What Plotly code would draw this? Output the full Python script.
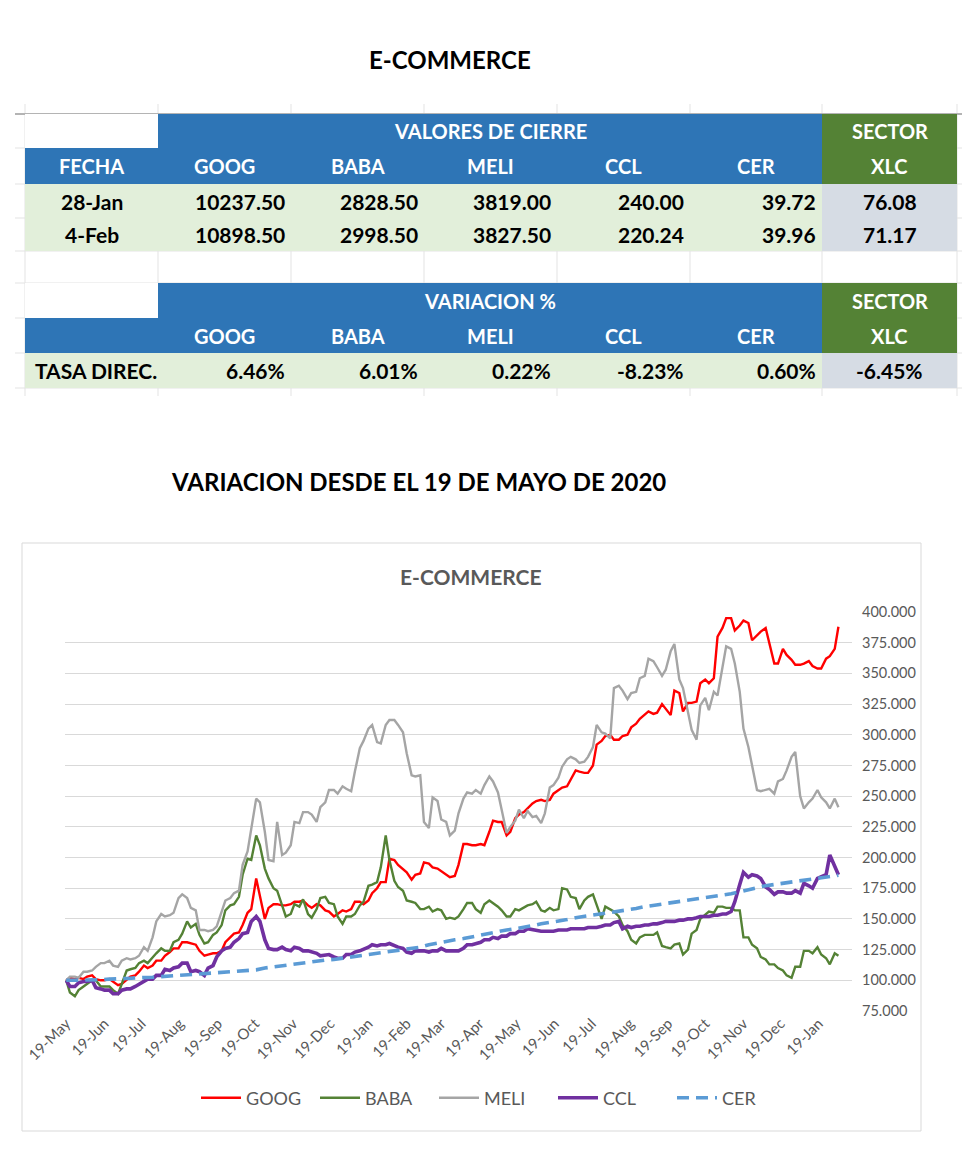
import plotly.graph_objects as go
import pandas as pd

W, H = 980, 1152
FONT = "Lato"
OFF = 8  # the page body adds an 8px margin; compensate

# ---------------- table data ----------------
tickers = ["GOOG", "BABA", "MELI", "CCL", "CER"]
fechas = ["28-Jan", "4-Feb"]
cierre_28jan = [10237.50, 2828.50, 3819.00, 240.00, 39.72]
cierre_4feb = [10898.50, 2998.50, 3827.50, 220.24, 39.96]
xlc_cierre = [76.08, 71.17]
variacion_pct = [6.46, 6.01, 0.22, -8.23, 0.60]
xlc_variacion = -6.45

# ---------------- chart data (index, 19-May-2020 = 100) ----------------
# read twice a week: Tuesdays (from 19-May-2020) and the following Fridays
tuesdays = pd.date_range("2020-05-19", periods=90, freq="7D")
fridays = tuesdays + pd.Timedelta(days=3)

goog_tue = [100, 101, 101, 104, 100, 101, 96, 100, 104, 112,
            112, 116, 123, 126, 131, 129, 120, 122, 124, 135,
            139, 155, 183, 150, 162, 161, 162, 164, 161, 162,
            157, 152, 157, 158, 164, 165, 175, 180, 198, 191,
            182, 187, 195, 191, 186, 185, 211, 210, 211, 221,
            229, 218, 232, 237, 244, 247, 247, 255, 258, 271,
            269, 275, 295, 300, 296, 300, 309, 316, 317, 325,
            316, 334, 326, 327, 345, 346, 387, 395, 389, 391,
            381, 387, 358, 370, 361, 357, 360, 354, 362, 370]
goog_fri = [102, 102, 103, 101, 100, 99, 97, 103, 107, 110,
            116, 120, 126, 131, 130, 124, 121, 122, 131, 138,
            145, 158, 169, 159, 162, 161, 164, 165, 159, 161,
            156, 154, 156, 164, 162, 171, 180, 199, 194, 188,
            186, 196, 192, 189, 184, 194, 211, 210, 210, 230,
            229, 221, 235, 240, 246, 246, 252, 257, 264, 270,
            269, 292, 299, 296, 299, 306, 313, 319, 318, 321,
            336, 319, 326, 342, 342, 380, 395, 385, 393, 377,
            384, 374, 358, 365, 357, 358, 356, 354, 364, 388]

baba_tue = [100, 87, 95, 100, 95, 95, 89, 108, 110, 116,
            119, 126, 124, 133, 148, 146, 130, 137, 145, 161,
            168, 199, 218, 191, 175, 161, 154, 160, 154, 158,
            168, 162, 146, 152, 161, 177, 180, 218, 181, 173,
            164, 158, 160, 158, 150, 150, 158, 163, 155, 165,
            160, 152, 158, 159, 162, 157, 159, 158, 174, 167,
            165, 170, 150, 158, 152, 140, 130, 137, 137, 128,
            126, 130, 125, 141, 153, 155, 160, 159, 157, 135,
            126, 117, 113, 108, 102, 111, 124, 127, 118, 122]
baba_fri = [90, 92, 97, 100, 95, 92, 97, 109, 114, 114,
            122, 124, 131, 138, 143, 137, 131, 139, 157, 162,
            186, 198, 210, 183, 173, 152, 162, 166, 151, 167,
            163, 152, 152, 154, 164, 178, 192, 198, 176, 165,
            163, 158, 156, 157, 151, 152, 163, 158, 162, 163,
            157, 152, 157, 161, 164, 156, 157, 175, 168, 158,
            168, 161, 160, 156, 145, 133, 135, 137, 139, 127,
            129, 121, 138, 150, 156, 160, 159, 157, 135, 129,
            119, 113, 110, 104, 111, 124, 122, 121, 113, 120]

meli_tue = [100, 103, 107, 108, 114, 116, 111, 118, 118, 127,
            135, 154, 153, 167, 167, 157, 141, 141, 156, 167,
            173, 205, 248, 221, 197, 202, 210, 228, 237, 229,
            245, 255, 258, 254, 289, 305, 294, 308, 312, 302,
            267, 267, 224, 246, 229, 222, 248, 252, 252, 266,
            253, 220, 230, 232, 233, 228, 257, 265, 280, 280,
            278, 290, 302, 297, 340, 329, 335, 348, 360, 348,
            368, 345, 318, 296, 330, 335, 355, 370, 335, 290,
            255, 255, 252, 264, 282, 250, 245, 255, 245, 248]
meli_fri = [103, 102, 107, 111, 114, 112, 116, 117, 120, 124,
            148, 152, 155, 170, 159, 141, 140, 144, 165, 171,
            194, 224, 245, 198, 229, 204, 229, 237, 235, 241,
            255, 252, 256, 270, 295, 308, 293, 312, 308, 285,
            266, 229, 249, 231, 218, 236, 253, 255, 259, 262,
            239, 225, 239, 238, 234, 236, 259, 274, 282, 277,
            282, 308, 301, 338, 336, 334, 346, 362, 355, 353,
            374, 338, 304, 324, 320, 332, 372, 358, 305, 275,
            254, 256, 262, 271, 286, 240, 248, 249, 240, 241]

ccl_tue = [100, 95, 99, 100, 93, 92, 89, 93, 95, 99,
           101, 104, 108, 111, 114, 108, 104, 112, 124, 127,
           134, 139, 152, 133, 125, 127, 124, 126, 124, 122,
           121, 119, 118, 121, 124, 127, 128, 129, 128, 126,
           122, 124, 123, 124, 124, 124, 126, 129, 131, 133,
           134, 136, 138, 140, 141, 140, 140, 141, 141, 142,
           142, 143, 144, 145, 148, 144, 144, 145, 146, 147,
           148, 149, 150, 151, 152, 153, 154, 156, 178, 184,
           185, 176, 170, 172, 171, 171, 177, 183, 186, 192]
ccl_fri = [95, 98, 99, 94, 92, 89, 92, 93, 97, 101,
           104, 109, 110, 114, 107, 107, 110, 119, 126, 131,
           138, 148, 148, 126, 125, 125, 127, 124, 123, 120,
           121, 118, 121, 123, 125, 129, 129, 130, 127, 123,
           124, 124, 124, 126, 124, 124, 129, 130, 133, 135,
           136, 138, 140, 142, 141, 140, 140, 141, 142, 142,
           143, 143, 145, 147, 142, 143, 144, 145, 146, 148,
           148, 149, 150, 152, 152, 153, 154, 164, 188, 186,
           183, 174, 172, 171, 173, 179, 175, 184, 202, 186]

cer_tue = [100, 100, 100, 100.5, 100.5, 101, 101, 101.5, 102, 102,
           102.5, 103, 103.5, 103.5, 104, 104.5, 105, 105.5, 106, 107,
           107.5, 108, 108.5, 110, 111, 112, 113, 114, 115, 116,
           116.5, 117, 118, 119, 120, 121, 122, 123, 124, 125,
           126, 127, 129, 130.5, 132, 133, 134, 135.5, 137, 138,
           139.5, 141, 142, 143, 144.5, 146, 147, 148, 149.5, 151,
           152, 153, 154, 155, 156, 157, 158.5, 160, 161, 162,
           163, 164, 165, 166, 167, 168, 169, 170.5, 172, 174,
           175.5, 177, 178, 179, 180, 181, 182, 183, 184, 185]
cer_last = 185.6  # 4-Feb-2022

tick_dates = ["2020-05-19", "2020-06-19", "2020-07-19", "2020-08-19", "2020-09-19",
              "2020-10-19", "2020-11-19", "2020-12-19", "2021-01-19", "2021-02-19",
              "2021-03-19", "2021-04-19", "2021-05-19", "2021-06-19", "2021-07-19",
              "2021-08-19", "2021-09-19", "2021-10-19", "2021-11-19", "2021-12-19",
              "2022-01-19"]
tick_labels = ["19-May", "19-Jun", "19-Jul", "19-Aug", "19-Sep", "19-Oct", "19-Nov",
               "19-Dec", "19-Jan", "19-Feb", "19-Mar", "19-Apr", "19-May", "19-Jun",
               "19-Jul", "19-Aug", "19-Sep", "19-Oct", "19-Nov", "19-Dec", "19-Jan"]
y_ticks = [75, 100, 125, 150, 175, 200, 225, 250, 275, 300, 325, 350, 375, 400]


def interleave(a, b):
    assert len(a) == len(b) == 90
    return [v for pair in zip(a, b) for v in pair]


x_twice = interleave(list(tuesdays.strftime("%Y-%m-%d")), list(fridays.strftime("%Y-%m-%d")))
x_cer = list(tuesdays.strftime("%Y-%m-%d")) + [fridays[-1].strftime("%Y-%m-%d")]

series = [("GOOG", x_twice, interleave(goog_tue, goog_fri), "#FF0000", 2.4, "solid"),
          ("BABA", x_twice, interleave(baba_tue, baba_fri), "#548235", 2.4, "solid"),
          ("MELI", x_twice, interleave(meli_tue, meli_fri), "#A5A5A5", 2.4, "solid"),
          ("CCL", x_twice, interleave(ccl_tue, ccl_fri), "#7030A0", 3.6, "solid"),
          ("CER", x_cer, cer_tue + [cer_last], "#5B9BD5", 3.6, "12px,7px")]

# ---------------- helpers ----------------
def px(x):
    return (x - OFF) / W


def py(y):
    return 1 - (y - OFF) / H


shapes = []
annotations = []


def rect(x0, y0, x1, y1, fill, line=None, lw=0, layer="below"):
    shapes.append(dict(type="rect", xref="paper", yref="paper", layer=layer,
                       x0=px(x0), x1=px(x1), y0=py(y1), y1=py(y0),
                       fillcolor=fill, line=dict(color=line or fill, width=lw)))


def hline(x0, x1, y, color, w=1):
    shapes.append(dict(type="line", xref="paper", yref="paper", layer="below",
                       x0=px(x0), x1=px(x1), y0=py(y), y1=py(y),
                       line=dict(color=color, width=w)))


def vline(x, y0, y1, color, w=1):
    shapes.append(dict(type="line", xref="paper", yref="paper", layer="below",
                       x0=px(x), x1=px(x), y0=py(y0), y1=py(y1),
                       line=dict(color=color, width=w)))


def text(x, y, s, size=20, color="black", anchor="center", bold=True):
    annotations.append(dict(x=px(x), y=py(y), xref="paper", yref="paper",
                            text=f"<b>{s}</b>" if bold else s, showarrow=False,
                            xanchor=anchor, yanchor="middle",
                            font=dict(family=FONT, size=size, color=color)))


# ---------------- table layout ----------------
col_x = [25, 158, 291, 424, 557, 690, 822, 957]
row_y = [114, 148, 184, 218, 251, 283, 318, 353, 388]
GRID = "#E3E3E3"
BLUE = "#2E75B6"
GREEN = "#548235"
LGREEN = "#E2EFDA"
XLCBG = "#D6DCE4"

for x in col_x:
    vline(x, 104, 396, GRID)
for y in row_y:
    hline(15, 962, y, GRID)
hline(15, 962, 114, "#B4B4B4", 2)

for top, last in ((0, row_y[4]), (5, row_y[8])):
    r0, r1, r2 = row_y[top], row_y[top + 1], row_y[top + 2]
    rect(col_x[0], r0, col_x[1], r1, "white")
    rect(col_x[1], r0, col_x[6], r1, BLUE)
    rect(col_x[0], r1, col_x[6], r2, BLUE)
    rect(col_x[6], r0, col_x[7], r2, GREEN)
    rect(col_x[0], r2, col_x[6], last, LGREEN)
    rect(col_x[6], r2, col_x[7], last, XLCBG)

centers = [(col_x[i] + col_x[i + 1]) / 2 for i in range(7)]
rc = [(row_y[i] + row_y[i + 1]) / 2 for i in range(8)]
VS = 21  # value font size

# block 1
text((col_x[1] + col_x[6]) / 2, rc[0], "VALORES DE CIERRE", color="white")
text(centers[6], rc[0], "SECTOR", color="white")
text(centers[0], rc[1], "FECHA", color="white")
for i, t in enumerate(tickers):
    text(centers[i + 1], rc[1], t, color="white")
text(centers[6], rc[1], "XLC", color="white")
for r, (f, vals) in enumerate(zip(fechas, [cierre_28jan, cierre_4feb])):
    text(centers[0], rc[2 + r], f, size=VS)
    for i, v in enumerate(vals):
        text(col_x[i + 2] - 4, rc[2 + r], f"{v:.2f}", size=VS, anchor="right")
    text(centers[6], rc[2 + r], f"{xlc_cierre[r]:.2f}", size=VS)

# block 2
text((col_x[1] + col_x[6]) / 2, rc[5], "VARIACION %", color="white")
text(centers[6], rc[5], "SECTOR", color="white")
for i, t in enumerate(tickers):
    text(centers[i + 1], rc[6], t, color="white")
text(centers[6], rc[6], "XLC", color="white")
text(33, rc[7], "TASA DIREC.", size=VS, anchor="left")
for i, v in enumerate(variacion_pct):
    text(col_x[i + 2] - 4, rc[7], f"{v:.2f}%", size=VS, anchor="right")
text(centers[6], rc[7], f"{xlc_variacion:.2f}%", size=VS)

# titles
text(450, 60, "E-COMMERCE", size=24)
text(418, 482, "VARIACION DESDE EL 19 DE MAYO DE 2020", size=24)

# chart box
rect(22, 543, 921, 1131, "white", line="#D9D9D9", lw=1)
text(470, 576, "E-COMMERCE", size=21, color="#595959")

# ---------------- chart ----------------
fig = go.Figure()
for name, xs, vals, color, width, dash in series:
    fig.add_trace(go.Scatter(x=xs, y=vals, name=name, mode="lines",
                             line=dict(color=color, width=width, dash=dash)))

PX0, PX1, PY0, PY1 = 65, 852, 612, 1011
fig.update_layout(
    width=W, height=H,
    margin=dict(l=0, r=0, t=0, b=0),
    paper_bgcolor="white",
    plot_bgcolor="rgba(0,0,0,0)",
    font=dict(family=FONT, color="#595959"),
    shapes=shapes,
    annotations=annotations,
    showlegend=True,
    legend=dict(orientation="h", x=px(196), xanchor="left", y=py(1098),
                yanchor="middle", font=dict(size=18, color="#595959"),
                bgcolor="rgba(0,0,0,0)", itemwidth=40, tracegroupgap=0,
                entrywidth=64, entrywidthmode="pixels"),
    xaxis=dict(domain=[px(PX0), px(PX1)], type="date",
               range=["2020-05-18", "2022-02-15"],
               tickvals=tick_dates, ticktext=tick_labels, tickangle=-45,
               tickfont=dict(size=15, color="#595959"),
               showgrid=False, zeroline=False, showline=False, ticks="",
               automargin=False),
    yaxis=dict(domain=[py(PY1), py(PY0)], range=[75, 400], side="right",
               tickvals=y_ticks, tickformat=".3f",
               tickfont=dict(size=14.5, color="#595959"),
               showgrid=True, gridcolor="#D9D9D9", gridwidth=1.3,
               zeroline=False, showline=False, ticks="",
               ticklabelstandoff=9, automargin=False),
)

fig.write_html("out.html")
